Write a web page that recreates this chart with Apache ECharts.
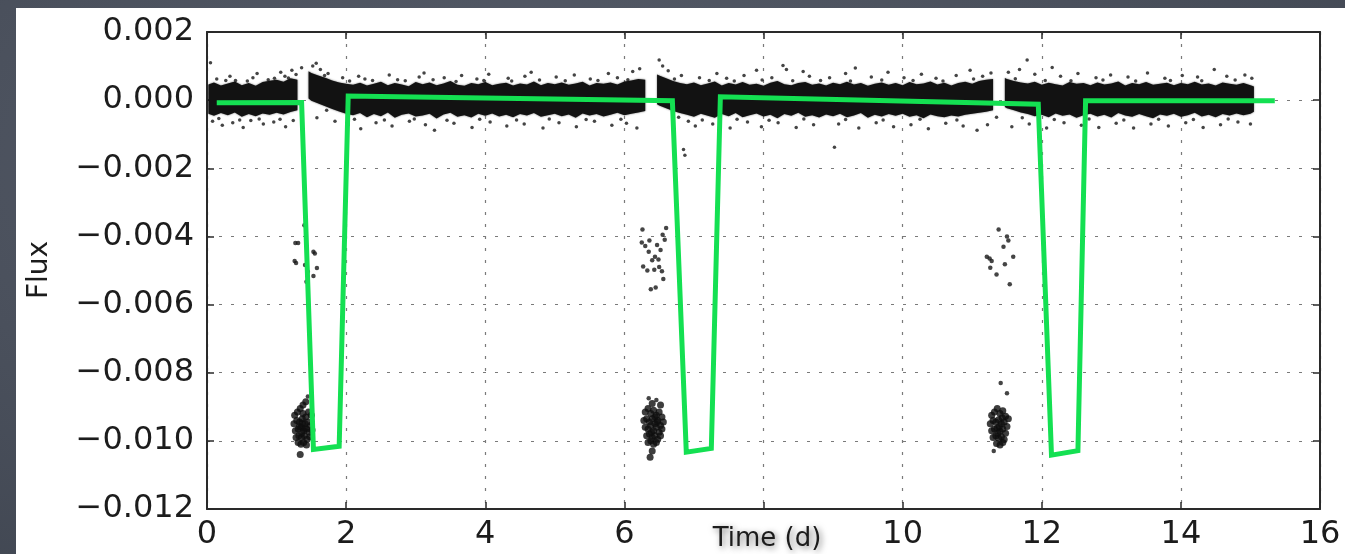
<!DOCTYPE html>
<html>
<head>
<meta charset="utf-8">
<script src="https://cdn.jsdelivr.net/npm/echarts@6/dist/echarts.min.js"></script>
<style>
  html, body { margin: 0; padding: 0; }
  #wrap {
    position: relative; width: 1345px; height: 554px; overflow: hidden;
    background: radial-gradient(ellipse at 40% 30%, #575d6a 0%, #4a505c 55%, #3f4550 100%);
  }
  #chart {
    position: absolute; left: 16px; top: 8px; width: 1329px; height: 546px;
    background: #ffffff;
  }
</style>
</head>
<body>
<div id="wrap"><div id="chart"></div></div>
<script>
// Axis ticks
const xTicks = [0, 2, 4, 6, 8, 10, 12, 14, 16];
const yTicks = [-0.012, -0.010, -0.008, -0.006, -0.004, -0.002, 0.000, 0.002];

// Dense out-of-transit light-curve band: upper / lower envelope per time step (null = data gap)
const bandTime = [
  0.02, 0.1, 0.2, 0.3, 0.4, 0.5, 0.6, 0.7, 0.8, 0.9, 1.0, 1.1, 1.2, 1.3, null,
  1.46, 1.5, 1.6, 1.7, 1.8, 1.9, 2.0,
  2.1, 2.2, 2.3, 2.4, 2.5, 2.6, 2.7, 2.8, 2.9, 3.0,
  3.1, 3.2, 3.3, 3.4, 3.5, 3.6, 3.7, 3.8, 3.9, 4.0,
  4.1, 4.2, 4.3, 4.4, 4.5, 4.6, 4.7, 4.8, 4.9, 5.0,
  5.1, 5.2, 5.3, 5.4, 5.5, 5.6, 5.7, 5.8, 5.9, 6.0,
  6.1, 6.2, 6.3, null,
  6.47, 6.5, 6.6, 6.7, 6.8,
  6.9, 7.0, 7.1, 7.2, 7.3, 7.4, 7.5, 7.6, 7.7, 7.8,
  7.9, 8.0, 8.1, 8.2, 8.3, 8.4, 8.5, 8.6, 8.7, 8.8,
  8.9, 9.0, 9.1, 9.2, 9.3, 9.4, 9.5, 9.6, 9.7, 9.8,
  9.9, 10.0, 10.1, 10.2, 10.3, 10.4, 10.5, 10.6, 10.7, 10.8,
  10.9, 11.0, 11.1, 11.2, 11.3, null,
  11.47, 11.5, 11.6, 11.7,
  11.8, 11.9, 12.0, 12.1, 12.2, 12.3, 12.4, 12.5, 12.6, 12.7,
  12.8, 12.9, 13.0, 13.1, 13.2, 13.3, 13.4, 13.5, 13.6, 13.7,
  13.8, 13.9, 14.0, 14.1, 14.2, 14.3, 14.4, 14.5, 14.6, 14.7,
  14.8, 14.9, 15.0, 15.05
];
const bandHigh = [
  0.00046, 0.00052, 0.00043, 0.00049, 0.00055, 0.00044, 0.00050, 0.00042, 0.00053, 0.00057, 0.00060, 0.00054, 0.00064, 0.00060, null,
  0.00085, 0.00080, 0.00072, 0.00066, 0.00058, 0.00052, 0.00048,
  0.00045, 0.00051, 0.00043, 0.00048, 0.00054, 0.00044, 0.00050, 0.00046, 0.00041, 0.00053,
  0.00047, 0.00052, 0.00044, 0.00049, 0.00056, 0.00045, 0.00042, 0.00050, 0.00047, 0.00053,
  0.00044, 0.00048, 0.00051, 0.00043, 0.00049, 0.00046, 0.00055, 0.00044, 0.00050, 0.00047,
  0.00052, 0.00045, 0.00049, 0.00054, 0.00043, 0.00050, 0.00048, 0.00052, 0.00046, 0.00055,
  0.00058, 0.00062, 0.00060, null,
  0.00075, 0.00072, 0.00064, 0.00056, 0.00050,
  0.00047, 0.00052, 0.00044, 0.00049, 0.00055, 0.00043, 0.00050, 0.00046, 0.00053, 0.00045,
  0.00048, 0.00042, 0.00051, 0.00056, 0.00047, 0.00044, 0.00050, 0.00053, 0.00045, 0.00049,
  0.00043, 0.00051, 0.00047, 0.00054, 0.00046, 0.00050, 0.00042, 0.00048, 0.00052, 0.00045,
  0.00050, 0.00044, 0.00053, 0.00047, 0.00049, 0.00055, 0.00046, 0.00051, 0.00043, 0.00050,
  0.00054, 0.00048, 0.00056, 0.00060, 0.00062, null,
  0.00065, 0.00062, 0.00056, 0.00052,
  0.00049, 0.00054, 0.00045, 0.00051, 0.00047, 0.00043, 0.00053, 0.00048, 0.00050, 0.00044,
  0.00052, 0.00046, 0.00049, 0.00055, 0.00043, 0.00050, 0.00047, 0.00053, 0.00045, 0.00048,
  0.00051, 0.00044, 0.00050, 0.00047, 0.00054, 0.00046, 0.00049, 0.00043, 0.00052, 0.00048,
  0.00045, 0.00050, 0.00044, 0.00040
];
const bandLow = [
  -0.00040, -0.00046, -0.00038, -0.00044, -0.00036, -0.00049, -0.00041, -0.00047, -0.00039, -0.00043, -0.00037, -0.00042, -0.00035, -0.00030, null,
  0.00005, -0.00002, -0.00010, -0.00018, -0.00026, -0.00033, -0.00040,
  -0.00044, -0.00038, -0.00050, -0.00041, -0.00047, -0.00036, -0.00052, -0.00043, -0.00039, -0.00048,
  -0.00045, -0.00040, -0.00054, -0.00042, -0.00037, -0.00049, -0.00044, -0.00051, -0.00040, -0.00046,
  -0.00039, -0.00048, -0.00043, -0.00050, -0.00041, -0.00045, -0.00038, -0.00049, -0.00044, -0.00040,
  -0.00047, -0.00042, -0.00052, -0.00039, -0.00045, -0.00041, -0.00048, -0.00043, -0.00037, -0.00044,
  -0.00040, -0.00036, -0.00032, null,
  -0.00012, -0.00016, -0.00024, -0.00032, -0.00038,
  -0.00043, -0.00049, -0.00040, -0.00046, -0.00052, -0.00041, -0.00047, -0.00038, -0.00050, -0.00044,
  -0.00039, -0.00048, -0.00043, -0.00053, -0.00041, -0.00046, -0.00037, -0.00049, -0.00044, -0.00051,
  -0.00042, -0.00047, -0.00040, -0.00050, -0.00045, -0.00038, -0.00052, -0.00043, -0.00048, -0.00041,
  -0.00046, -0.00040, -0.00049, -0.00044, -0.00053, -0.00042, -0.00047, -0.00050, -0.00045, -0.00048,
  -0.00043, -0.00040, -0.00037, -0.00034, -0.00030, null,
  -0.00020, -0.00024, -0.00030, -0.00036,
  -0.00041, -0.00047, -0.00043, -0.00050, -0.00039, -0.00046, -0.00042, -0.00052, -0.00044, -0.00040,
  -0.00048, -0.00043, -0.00051, -0.00038, -0.00045, -0.00049, -0.00041, -0.00047, -0.00053, -0.00042,
  -0.00046, -0.00040, -0.00049, -0.00044, -0.00037, -0.00048, -0.00043, -0.00050, -0.00041, -0.00045,
  -0.00039, -0.00044, -0.00040, -0.00034
];

// Individual measurements scattered around the band: [time (d), flux]
const scatterPoints = [
  [0.05, 0.00110], [0.14, 0.00062], [0.33, 0.00070], [0.41, 0.00058], [0.66, 0.00066], [0.72, 0.00078], [0.97, 0.00064],
  [1.06, 0.00082], [1.12, 0.00070], [1.22, 0.00088], [1.28, 0.00075], [1.36, 0.00095], [1.52, 0.00100], [1.57, 0.00108],
  [1.63, 0.00090], [1.74, 0.00078], [1.95, 0.00066], [2.18, 0.00070], [2.27, 0.00062], [2.62, 0.00074], [2.74, 0.00060],
  [3.05, 0.00068], [3.12, 0.00080], [3.41, 0.00066], [3.66, 0.00072], [3.88, 0.00062], [4.05, 0.00076], [4.33, 0.00064],
  [4.57, 0.00070], [4.66, 0.00082], [5.02, 0.00068], [5.28, 0.00074], [5.51, 0.00062], [5.77, 0.00078], [5.90, 0.00066],
  [6.12, 0.00084], [6.22, 0.00092], [6.50, 0.00118], [6.55, 0.00100], [6.63, 0.00086], [6.82, 0.00072], [7.08, 0.00066],
  [7.33, 0.00078], [7.47, 0.00064], [7.72, 0.00072], [7.90, 0.00088], [8.12, 0.00066], [8.28, 0.00102], [8.33, 0.00090],
  [8.57, 0.00084], [8.66, 0.00070], [8.95, 0.00066], [9.18, 0.00078], [9.32, 0.00094], [9.55, 0.00068], [9.79, 0.00082],
  [10.02, 0.00066], [10.27, 0.00076], [10.48, 0.00064], [10.77, 0.00072], [10.97, 0.00088], [11.15, 0.00070], [11.27, 0.00080],
  [11.52, 0.00082], [11.68, 0.00090], [11.79, 0.00118], [11.90, 0.00076], [12.15, 0.00096], [12.27, 0.00070], [12.52, 0.00078],
  [12.78, 0.00066], [12.99, 0.00074], [13.24, 0.00068], [13.52, 0.00080], [13.77, 0.00064], [14.02, 0.00072], [14.24, 0.00068],
  [14.48, 0.00090], [14.66, 0.00070], [14.92, 0.00074], [15.02, 0.00064],
  [0.27, 0.00058], [0.58, 0.00056], [0.88, 0.00060], [1.17, 0.00065], [1.69, 0.00072], [2.05, 0.00056], [2.38, 0.00058],
  [2.85, 0.00057], [3.25, 0.00060], [3.58, 0.00055], [3.98, 0.00058], [4.38, 0.00056], [4.78, 0.00059], [5.15, 0.00057],
  [5.62, 0.00058], [6.05, 0.00060], [6.72, 0.00062], [7.22, 0.00058], [7.58, 0.00056], [7.98, 0.00059], [8.42, 0.00057],
  [8.82, 0.00058], [9.25, 0.00056], [9.70, 0.00059], [10.15, 0.00058], [10.58, 0.00056], [11.02, 0.00062], [11.62, 0.00063],
  [12.05, 0.00058], [12.42, 0.00057], [12.88, 0.00059], [13.35, 0.00056], [13.85, 0.00058], [14.30, 0.00057], [14.78, 0.00059],
  [0.08, -0.00062], [0.22, -0.00074], [0.37, -0.00066], [0.52, -0.00080], [0.63, -0.00060], [0.81, -0.00070], [0.96, -0.00064],
  [1.13, -0.00078], [1.24, -0.00060], [1.58, -0.00052], [1.84, -0.00062], [2.03, -0.00072], [2.21, -0.00084], [2.43, -0.00066],
  [2.66, -0.00076], [2.91, -0.00062], [3.14, -0.00072], [3.27, -0.00088], [3.55, -0.00068], [3.81, -0.00080], [4.07, -0.00064],
  [4.31, -0.00076], [4.56, -0.00070], [4.83, -0.00082], [5.06, -0.00066], [5.31, -0.00078], [5.57, -0.00062], [5.82, -0.00074],
  [6.03, -0.00068], [6.18, -0.00082], [6.85, -0.00145], [6.87, -0.00162], [6.92, -0.00062], [7.02, -0.00076], [7.27, -0.00070],
  [7.52, -0.00082], [7.77, -0.00064], [7.97, -0.00078], [8.21, -0.00066], [8.47, -0.00080], [8.72, -0.00072], [9.02, -0.00138],
  [9.08, -0.00070], [9.37, -0.00082], [9.62, -0.00066], [9.87, -0.00078], [10.12, -0.00072], [10.37, -0.00084], [10.62, -0.00068],
  [10.87, -0.00076], [11.07, -0.00088], [11.22, -0.00072], [11.57, -0.00078], [11.82, -0.00070], [12.07, -0.00082], [12.32, -0.00066],
  [12.57, -0.00074], [12.82, -0.00080], [13.07, -0.00068], [13.32, -0.00082], [13.57, -0.00070], [13.82, -0.00076], [14.07, -0.00066],
  [14.32, -0.00080], [14.57, -0.00072], [14.82, -0.00064], [15.00, -0.00070],
  [0.17, -0.00054], [0.47, -0.00058], [0.75, -0.00055], [1.05, -0.00056], [1.72, -0.00030], [2.12, -0.00056], [2.55, -0.00058],
  [2.98, -0.00055], [3.45, -0.00059], [3.92, -0.00056], [4.45, -0.00058], [4.92, -0.00055], [5.45, -0.00057], [5.95, -0.00056],
  [6.78, -0.00050], [7.12, -0.00058], [7.62, -0.00056], [8.08, -0.00059], [8.58, -0.00055], [9.18, -0.00057], [9.72, -0.00058],
  [10.25, -0.00056], [10.78, -0.00058], [11.35, -0.00050], [11.72, -0.00052], [12.18, -0.00057], [12.68, -0.00055], [13.18, -0.00058],
  [13.68, -0.00056], [14.18, -0.00057], [14.68, -0.00055]
];

// Partial-depth (ingress/egress) measurements of the three transits: [time (d), flux]
const transitEdgePoints = [
  [1.40, -0.00367], [1.27, -0.00419], [1.31, -0.00419], [1.53, -0.00445], [1.55, -0.00450], [1.28, -0.00478], [1.26, -0.00472],
  [1.41, -0.00484], [1.58, -0.00493], [1.45, -0.00504], [1.53, -0.00516], [1.43, -0.00533], [1.45, -0.00870],
  [6.26, -0.00380], [6.60, -0.00375], [6.55, -0.00395], [6.25, -0.00418], [6.36, -0.00412], [6.58, -0.00410], [6.30, -0.00428],
  [6.47, -0.00425], [6.52, -0.00440], [6.44, -0.00460], [6.40, -0.00470], [6.27, -0.00488], [6.50, -0.00490], [6.33, -0.00500],
  [6.43, -0.00498], [6.54, -0.00502], [6.56, -0.00525], [6.38, -0.00555], [6.45, -0.00550], [6.35, -0.00445], [6.49, -0.00468],
  [6.35, -0.00875], [6.46, -0.00880],
  [11.38, -0.00380], [11.50, -0.00400], [11.52, -0.00412], [11.45, -0.00430], [11.21, -0.00460], [11.25, -0.00465],
  [11.28, -0.00472], [11.47, -0.00482], [11.59, -0.00460], [11.26, -0.00492], [11.35, -0.00512], [11.54, -0.00540],
  [11.41, -0.00830], [11.50, -0.00860], [11.31, -0.01030]
];

// Full-depth measurements of the three transits: [time (d), flux]
const transitDeepPoints = [
  [1.26, -0.00925], [1.30, -0.00915], [1.34, -0.00905], [1.38, -0.00920], [1.42, -0.00930], [1.46, -0.00915], [1.50, -0.00925],
  [1.25, -0.00950], [1.29, -0.00940], [1.33, -0.00945], [1.37, -0.00935], [1.41, -0.00950], [1.45, -0.00945], [1.49, -0.00955],
  [1.27, -0.00970], [1.31, -0.00965], [1.35, -0.00960], [1.39, -0.00970], [1.43, -0.00965], [1.47, -0.00975], [1.51, -0.00968],
  [1.28, -0.00990], [1.32, -0.00985], [1.36, -0.00990], [1.40, -0.00985], [1.44, -0.00995], [1.48, -0.00988],
  [1.31, -0.01005], [1.35, -0.01010], [1.39, -0.01005], [1.43, -0.01012], [1.34, -0.01040],
  [1.42, -0.00885], [1.38, -0.00895], [1.33, -0.00958], [1.41, -0.00962], [1.37, -0.00948], [1.36, -0.00978],
  [6.30, -0.00915], [6.34, -0.00905], [6.38, -0.00920], [6.42, -0.00910], [6.46, -0.00925], [6.50, -0.00915], [6.54, -0.00930],
  [6.28, -0.00940], [6.32, -0.00935], [6.36, -0.00945], [6.40, -0.00935], [6.44, -0.00950], [6.48, -0.00940], [6.52, -0.00955],
  [6.56, -0.00945], [6.30, -0.00960], [6.34, -0.00965], [6.38, -0.00955], [6.42, -0.00970], [6.46, -0.00960], [6.50, -0.00975],
  [6.54, -0.00965], [6.32, -0.00985], [6.36, -0.00980], [6.40, -0.00990], [6.44, -0.00985], [6.48, -0.00995], [6.52, -0.00985],
  [6.34, -0.01005], [6.38, -0.01000], [6.42, -0.01010], [6.46, -0.01005], [6.40, -0.01030], [6.37, -0.01048],
  [6.40, -0.00890], [6.52, -0.00895], [6.44, -0.00930], [6.39, -0.00975], [6.47, -0.00945],
  [11.28, -0.00925], [11.32, -0.00915], [11.36, -0.00905], [11.40, -0.00920], [11.44, -0.00912], [11.48, -0.00928], [11.52, -0.00935],
  [11.26, -0.00950], [11.30, -0.00940], [11.34, -0.00945], [11.38, -0.00938], [11.42, -0.00950], [11.46, -0.00945], [11.50, -0.00958],
  [11.28, -0.00970], [11.32, -0.00965], [11.36, -0.00962], [11.40, -0.00972], [11.44, -0.00965], [11.48, -0.00978],
  [11.30, -0.00990], [11.34, -0.00985], [11.38, -0.00992], [11.42, -0.00988], [11.46, -0.00996],
  [11.35, -0.01008], [11.40, -0.01012], [11.44, -0.01005], [11.39, -0.00958], [11.43, -0.00932], [11.37, -0.00978]
];

// Fitted transit model (green)
const modelTime = [0.14, 1.36, 1.53, 1.90, 2.03, 6.69, 6.89, 7.25, 7.38, 11.95, 12.14, 12.52, 12.63, 15.35];
const modelFlux = [-0.00008, -0.00007, -0.01025, -0.01016, 0.00012, -0.00002, -0.01033, -0.01022, 0.00010, -0.00012, -0.01042, -0.01029, -0.00002, -0.00002];

// Split the band into continuous segments
const bandSegments = [];
(function () {
  let cur = [];
  bandTime.forEach(function (t, i) {
    if (t === null) { if (cur.length) bandSegments.push(cur); cur = []; }
    else cur.push(i);
  });
  if (cur.length) bandSegments.push(cur);
})();

const FONT = "'DejaVu Sans', sans-serif";
const fmtY = function (v) {
  const r = Math.round(v * 1000) / 1000;
  return (r < 0 ? '\u2212' : '') + Math.abs(r).toFixed(3);
};

const gridLine = { show: true, lineStyle: { color: '#7a7a7a', width: 1.2, type: [3, 9] } };
const frameLine = { show: true, onZero: false, lineStyle: { color: '#2a2a2a', width: 2 } };
const innerTick = { show: true, inside: true, length: 7, lineStyle: { color: '#2a2a2a', width: 1.5 } };

const chart = echarts.init(document.getElementById('chart'), null, { renderer: 'canvas' });
chart.setOption({
  animation: false,
  backgroundColor: '#ffffff',
  grid: { left: 191, right: 25, top: 24, bottom: 45, containLabel: false },
  xAxis: [
    {
      type: 'value', min: xTicks[0], max: xTicks[xTicks.length - 1], interval: 2,
      axisLine: frameLine, axisTick: innerTick, splitLine: gridLine,
      axisLabel: {
        margin: 10, fontSize: 32, fontFamily: FONT, color: '#1c1c1c',
        formatter: function (v) { return v === 8 ? '' : String(v); }
      }
    },
    {
      type: 'value', position: 'top', min: xTicks[0], max: xTicks[xTicks.length - 1], interval: 2,
      axisLine: frameLine, axisTick: innerTick, splitLine: { show: false }, axisLabel: { show: false }
    }
  ],
  yAxis: [
    {
      type: 'value', min: yTicks[0], max: yTicks[yTicks.length - 1], interval: 0.002,
      axisLine: frameLine, axisTick: innerTick, splitLine: gridLine,
      axisLabel: { margin: 13, fontSize: 32, fontFamily: FONT, color: '#1c1c1c', formatter: fmtY }
    },
    {
      type: 'value', position: 'right', min: yTicks[0], max: yTicks[yTicks.length - 1], interval: 0.002,
      axisLine: frameLine, axisTick: innerTick, splitLine: { show: false }, axisLabel: { show: false }
    }
  ],
  graphic: [
    {
      type: 'text', x: 24, y: 262, rotation: Math.PI / 2,
      style: { text: 'Flux', font: "28px 'DejaVu Sans'", fill: '#1c1c1c', textAlign: 'center', textVerticalAlign: 'middle' }
    },
    {
      type: 'text', x: 751, y: 531,
      style: {
        text: 'Time (d)', font: "26px 'DejaVu Sans'", fill: '#1c1c1c',
        textAlign: 'center', textVerticalAlign: 'middle',
        textShadowColor: 'rgba(0,0,0,0.55)', textShadowBlur: 6, textShadowOffsetX: 2, textShadowOffsetY: 2
      }
    }
  ],
  series: [
    {
      type: 'custom', name: 'band', silent: true, z: 3,
      data: bandSegments.map(function (s, i) { return [i, 0]; }),
      encode: { x: 0, y: 1 },
      renderItem: function (params, api) {
        const idx = bandSegments[params.dataIndex];
        const top = idx.map(function (i) { return api.coord([bandTime[i], bandHigh[i]]); });
        const bottom = idx.slice().reverse().map(function (i) { return api.coord([bandTime[i], bandLow[i]]); });
        return {
          type: 'polygon',
          shape: { points: top.concat(bottom) },
          style: { fill: '#121212', shadowBlur: 2, shadowColor: 'rgba(0,0,0,0.6)' }
        };
      }
    },
    {
      type: 'scatter', name: 'flux', silent: true, z: 4,
      symbol: 'circle', symbolSize: 3.5,
      itemStyle: { color: '#161616' },
      data: scatterPoints
    },
    {
      type: 'scatter', name: 'transit edge', silent: true, z: 4,
      symbol: 'circle', symbolSize: 4.5,
      itemStyle: { color: '#161616' },
      data: transitEdgePoints
    },
    {
      type: 'scatter', name: 'transit depth', silent: true, z: 4,
      symbol: 'circle', symbolSize: 7,
      itemStyle: { color: '#0e0e0e' },
      data: transitDeepPoints
    },
    {
      type: 'line', name: 'model', silent: true, z: 6,
      showSymbol: false, symbol: 'none',
      lineStyle: { color: '#14e052', width: 5, join: 'miter' },
      data: modelTime.map(function (t, i) { return [t, modelFlux[i]]; })
    }
  ]
});
</script>
</body>
</html>
